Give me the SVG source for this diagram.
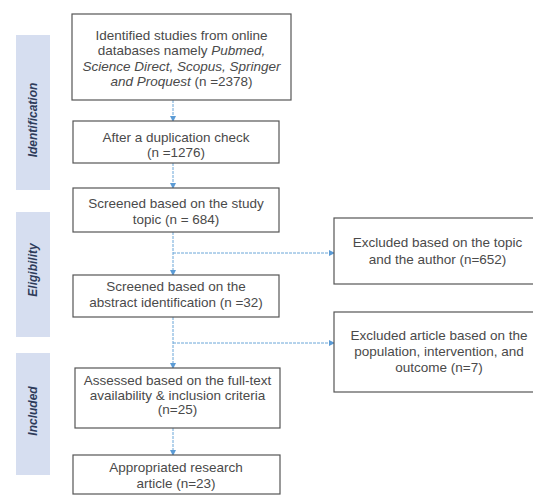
<svg xmlns="http://www.w3.org/2000/svg" width="533" height="495" viewBox="0 0 533 495">
<defs>
<marker id="ah" viewBox="0 0 6 6" refX="5" refY="3" markerWidth="6" markerHeight="6" orient="auto" markerUnits="userSpaceOnUse">
<path d="M0,0 L6,3 L0,6 z" fill="#5b9bd5"/>
</marker>
</defs>
<style>
.box{fill:#ffffff;stroke:#555555;stroke-width:1.2}
.t{font-family:"Liberation Sans",Arial,sans-serif;font-size:13.5px;fill:#4a4a4a;text-anchor:middle}
.i{font-style:italic}
.side{fill:#d6def0}
.st{font-family:"Liberation Sans",Arial,sans-serif;font-size:12px;font-weight:bold;font-style:italic;fill:#2e3b5a;text-anchor:middle}
.c{fill:none;stroke:#6aa6d8;stroke-width:1;stroke-dasharray:3 1}
</style>
<rect width="533" height="495" fill="#ffffff"/>
<g id="stage-identification">
<rect class="side" x="16" y="35" width="34" height="155"/>
<text class="st" transform="translate(37,120) rotate(-90)">Identification</text>
</g>
<g id="stage-eligibility">
<rect class="side" x="16" y="212" width="34" height="125"/>
<text class="st" transform="translate(37,270) rotate(-90)">Eligibility</text>
</g>
<g id="stage-included">
<rect class="side" x="16" y="353" width="34" height="122"/>
<text class="st" transform="translate(37,411) rotate(-90)">Included</text>
</g>
<g id="connectors">
<line class="c" x1="173" y1="100" x2="173" y2="121" marker-end="url(#ah)"/>
<line class="c" x1="173" y1="163" x2="173" y2="188" marker-end="url(#ah)"/>
<line class="c" x1="173" y1="232" x2="173" y2="275" marker-end="url(#ah)"/>
<line class="c" x1="173" y1="253" x2="334" y2="253" marker-end="url(#ah)"/>
<line class="c" x1="173" y1="317" x2="173" y2="368" marker-end="url(#ah)"/>
<line class="c" x1="173" y1="343" x2="334" y2="343" marker-end="url(#ah)"/>
<line class="c" x1="173" y1="428" x2="173" y2="455" marker-end="url(#ah)"/>
</g>
<g id="n1">
<rect class="box" x="72" y="14" width="219" height="86"/>
<text class="t" x="181.5" y="39.5">Identified studies from online</text>
<text class="t" x="181.5" y="55">databases namely <tspan class="i">Pubmed,</tspan></text>
<text class="t i" x="181.5" y="70.5">Science Direct, Scopus, Springer</text>
<text class="t" x="181.5" y="86"><tspan class="i">and  Proquest</tspan> (n =2378)</text>
</g>
<g id="n2">
<rect class="box" x="73" y="121" width="206" height="42"/>
<text class="t" x="176" y="141.5">After a duplication check</text>
<text class="t" x="176" y="156.5">(n =1276)</text>
</g>
<g id="n3">
<rect class="box" x="73" y="188" width="206" height="44"/>
<text class="t" x="176" y="208">Screened based on the study</text>
<text class="t" x="176" y="224">topic (n = 684)</text>
</g>
<g id="n4">
<rect class="box" x="73" y="275" width="206" height="42"/>
<text class="t" x="176" y="291">Screened based on the</text>
<text class="t" x="176" y="307">abstract identification (n =32)</text>
</g>
<g id="n5">
<rect class="box" x="75" y="368" width="205" height="60"/>
<text class="t" x="177.5" y="384.5">Assessed based on the full-text</text>
<text class="t" x="177.5" y="399.5">availability &amp; inclusion criteria</text>
<text class="t" x="177.5" y="414">(n=25)</text>
</g>
<g id="n6">
<rect class="box" x="73" y="455" width="207" height="39"/>
<text class="t" x="176" y="471.5">Appropriated research</text>
<text class="t" x="176" y="487.5">article (n=23)</text>
</g>
<g id="x1">
<rect class="box" x="334" y="218" width="207" height="66"/>
<text class="t" x="437.5" y="246.5">Excluded based on the topic</text>
<text class="t" x="437.5" y="263.5">and the author (n=652)</text>
</g>
<g id="x2">
<rect class="box" x="334" y="312" width="207" height="80"/>
<text class="t" x="439" y="339.5">Excluded article based on the</text>
<text class="t" x="439" y="355.5">population, intervention, and</text>
<text class="t" x="439" y="371.5">outcome (n=7)</text>
</g>
</svg>
